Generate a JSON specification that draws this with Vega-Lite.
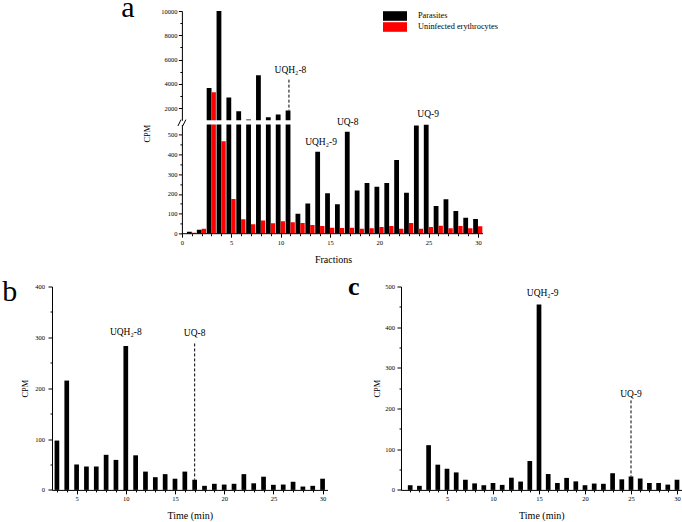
{
  "$schema": "https://vega.github.io/schema/vega-lite/v6.json",
  "padding": {"left": 2, "top": -8, "right": 0, "bottom": 0},
  "config": {
    "font": "Liberation Serif, serif",
    "view": {"stroke": null},
    "scale": {"continuousPadding": 0},
    "axis": {
      "labelFont": "Liberation Serif, serif", "titleFont": "Liberation Serif, serif",
      "labelFontSize": 6.5, "titleFontSize": 8.3, "titleFontWeight": "normal",
      "labelColor": "black", "titleColor": "black", "domainColor": "black", "tickColor": "black",
      "grid": false, "labelFlush": false, "labelPadding": 2
    },
    "text": {"font": "Liberation Serif, serif", "color": "black"}
  },
  "datasets": {
    "fractions": [
      {"fraction": 1, "series": "Parasites", "cpm": 10},
      {"fraction": 2, "series": "Parasites", "cpm": 20},
      {"fraction": 3, "series": "Parasites", "cpm": 3650},
      {"fraction": 4, "series": "Parasites", "cpm": 10000},
      {"fraction": 5, "series": "Parasites", "cpm": 2880},
      {"fraction": 6, "series": "Parasites", "cpm": 1750},
      {"fraction": 7, "series": "Parasites", "cpm": 1070},
      {"fraction": 8, "series": "Parasites", "cpm": 4700},
      {"fraction": 9, "series": "Parasites", "cpm": 1260},
      {"fraction": 10, "series": "Parasites", "cpm": 1480},
      {"fraction": 11, "series": "Parasites", "cpm": 1810},
      {"fraction": 12, "series": "Parasites", "cpm": 100},
      {"fraction": 13, "series": "Parasites", "cpm": 152},
      {"fraction": 14, "series": "Parasites", "cpm": 412},
      {"fraction": 15, "series": "Parasites", "cpm": 203},
      {"fraction": 16, "series": "Parasites", "cpm": 148},
      {"fraction": 17, "series": "Parasites", "cpm": 513},
      {"fraction": 18, "series": "Parasites", "cpm": 218},
      {"fraction": 19, "series": "Parasites", "cpm": 255},
      {"fraction": 20, "series": "Parasites", "cpm": 236},
      {"fraction": 21, "series": "Parasites", "cpm": 255},
      {"fraction": 22, "series": "Parasites", "cpm": 371},
      {"fraction": 23, "series": "Parasites", "cpm": 206},
      {"fraction": 24, "series": "Parasites", "cpm": 545},
      {"fraction": 25, "series": "Parasites", "cpm": 549},
      {"fraction": 26, "series": "Parasites", "cpm": 139},
      {"fraction": 27, "series": "Parasites", "cpm": 173},
      {"fraction": 28, "series": "Parasites", "cpm": 114},
      {"fraction": 29, "series": "Parasites", "cpm": 80},
      {"fraction": 30, "series": "Parasites", "cpm": 74},
      {"fraction": 1, "series": "Uninfected erythrocytes", "cpm": 5},
      {"fraction": 2, "series": "Uninfected erythrocytes", "cpm": 25},
      {"fraction": 3, "series": "Uninfected erythrocytes", "cpm": 3300},
      {"fraction": 4, "series": "Uninfected erythrocytes", "cpm": 465},
      {"fraction": 5, "series": "Uninfected erythrocytes", "cpm": 175},
      {"fraction": 6, "series": "Uninfected erythrocytes", "cpm": 73},
      {"fraction": 7, "series": "Uninfected erythrocytes", "cpm": 47},
      {"fraction": 8, "series": "Uninfected erythrocytes", "cpm": 67},
      {"fraction": 9, "series": "Uninfected erythrocytes", "cpm": 52},
      {"fraction": 10, "series": "Uninfected erythrocytes", "cpm": 63},
      {"fraction": 11, "series": "Uninfected erythrocytes", "cpm": 57},
      {"fraction": 12, "series": "Uninfected erythrocytes", "cpm": 54},
      {"fraction": 13, "series": "Uninfected erythrocytes", "cpm": 44},
      {"fraction": 14, "series": "Uninfected erythrocytes", "cpm": 39},
      {"fraction": 15, "series": "Uninfected erythrocytes", "cpm": 30},
      {"fraction": 16, "series": "Uninfected erythrocytes", "cpm": 29},
      {"fraction": 17, "series": "Uninfected erythrocytes", "cpm": 30},
      {"fraction": 18, "series": "Uninfected erythrocytes", "cpm": 25},
      {"fraction": 19, "series": "Uninfected erythrocytes", "cpm": 27},
      {"fraction": 20, "series": "Uninfected erythrocytes", "cpm": 34},
      {"fraction": 21, "series": "Uninfected erythrocytes", "cpm": 39},
      {"fraction": 22, "series": "Uninfected erythrocytes", "cpm": 25},
      {"fraction": 23, "series": "Uninfected erythrocytes", "cpm": 54},
      {"fraction": 24, "series": "Uninfected erythrocytes", "cpm": 25},
      {"fraction": 25, "series": "Uninfected erythrocytes", "cpm": 34},
      {"fraction": 26, "series": "Uninfected erythrocytes", "cpm": 40},
      {"fraction": 27, "series": "Uninfected erythrocytes", "cpm": 27},
      {"fraction": 28, "series": "Uninfected erythrocytes", "cpm": 39},
      {"fraction": 29, "series": "Uninfected erythrocytes", "cpm": 27},
      {"fraction": 30, "series": "Uninfected erythrocytes", "cpm": 37}
    ],
    "panelB": [
      {"time": 3, "cpm": 97}, {"time": 4, "cpm": 215}, {"time": 5, "cpm": 50}, {"time": 6, "cpm": 46},
      {"time": 7, "cpm": 46}, {"time": 8, "cpm": 69}, {"time": 9, "cpm": 59}, {"time": 10, "cpm": 283},
      {"time": 11, "cpm": 68}, {"time": 12, "cpm": 36}, {"time": 13, "cpm": 25}, {"time": 14, "cpm": 31},
      {"time": 15, "cpm": 22}, {"time": 16, "cpm": 36}, {"time": 17, "cpm": 20}, {"time": 18, "cpm": 8},
      {"time": 19, "cpm": 12}, {"time": 20, "cpm": 10.5}, {"time": 21, "cpm": 12}, {"time": 22, "cpm": 31},
      {"time": 23, "cpm": 13}, {"time": 24, "cpm": 26}, {"time": 25, "cpm": 10}, {"time": 26, "cpm": 10.5},
      {"time": 27, "cpm": 16}, {"time": 28, "cpm": 6.6}, {"time": 29, "cpm": 8}, {"time": 30, "cpm": 22}
    ],
    "panelC": [
      {"time": 1, "cpm": 11.5}, {"time": 2, "cpm": 10}, {"time": 3, "cpm": 110}, {"time": 4, "cpm": 62},
      {"time": 5, "cpm": 52}, {"time": 6, "cpm": 43}, {"time": 7, "cpm": 25}, {"time": 8, "cpm": 16},
      {"time": 9, "cpm": 11.5}, {"time": 10, "cpm": 17}, {"time": 11, "cpm": 12.3}, {"time": 12, "cpm": 30},
      {"time": 13, "cpm": 20.5}, {"time": 14, "cpm": 71}, {"time": 15, "cpm": 456}, {"time": 16, "cpm": 39},
      {"time": 17, "cpm": 17}, {"time": 18, "cpm": 29.5}, {"time": 19, "cpm": 21}, {"time": 20, "cpm": 11.5},
      {"time": 21, "cpm": 15.6}, {"time": 22, "cpm": 15}, {"time": 23, "cpm": 41}, {"time": 24, "cpm": 26},
      {"time": 25, "cpm": 33}, {"time": 26, "cpm": 28}, {"time": 27, "cpm": 17}, {"time": 28, "cpm": 17},
      {"time": 29, "cpm": 13}, {"time": 30, "cpm": 25}
    ],
    "labelsAUpper": [{"label": "UQH₂-8", "x": 11, "y": 5170}],
    "labelsALower": [
      {"label": "UQH₂-9", "x": 14.1, "y": 460},
      {"label": "UQ-8", "x": 16.8, "y": 564},
      {"label": "UQ-9", "x": 24.95, "y": 603}
    ],
    "markersA": [{"x": 11, "y": 4350, "y2": 1810}],
    "axisLineA": [{"from": 0, "to": 30.5, "level": 0}],
    "breakA": [{"x": 0, "y": 558}],
    "labelsB": [{"label": "UQH₂-8", "x": 10, "y": 311}, {"label": "UQ-8", "x": 17, "y": 308}],
    "markersB": [{"x": 17, "y": 288, "y2": 20}],
    "labelsC": [{"label": "UQH₂-9", "x": 15.4, "y": 484}, {"label": "UQ-9", "x": 25, "y": 236}],
    "markersC": [{"x": 25, "y": 220, "y2": 33}],
    "letterA": [{"label": "a", "x": -6.15, "y": 9520}],
    "letterB": [{"label": "b", "x": -2.55, "y": 371}],
    "letterC": [{"label": "c", "x": -5.76, "y": 479}]
  },
  "spacing": 8.5,
  "vconcat": [
    {
      "bounds": "flush",
      "spacing": 3.4,
      "vconcat": [
        {
          "width": 430.9,
          "height": 109.3,
          "resolve": {"axis": {"x": "independent", "y": "independent"}},
          "layer": [
            {
              "data": {"name": "fractions"},
              "transform": [{"filter": "datum.series === 'Parasites'"}],
              "mark": {"type": "bar", "width": 4.8, "xOffset": -2.4, "clip": true},
              "encoding": {
                "x": {"field": "fraction", "type": "quantitative", "scale": {"domain": [-13.16, 30.5], "padding": 0}, "axis": null},
                "y": {"field": "cpm", "type": "quantitative", "scale": {"domain": [1000, 10000]},
                  "axis": {"orient": "left", "values": [2000, 4000, 6000, 8000, 10000], "format": "d",
                    "tickSize": 3.5, "labelPadding": 1.5, "offset": -129.9, "title": null}},
                "color": {"field": "series", "type": "nominal",
                  "scale": {"domain": ["Parasites", "Uninfected erythrocytes"], "range": ["#000000", "#ff0000"]},
                  "legend": {"orient": "none", "legendX": 338, "legendY": 0, "title": null,
                    "symbolType": "M-2.5,-1H2.5V1H-2.5Z", "symbolSize": 92, "symbolStrokeWidth": 0,
                    "symbolOpacity": 1, "labelFont": "Liberation Serif, serif", "labelFontSize": 8.3,
                    "labelColor": "black", "labelOffset": 18, "rowPadding": 1, "padding": 0}}
              }
            },
            {
              "data": {"name": "fractions"},
              "transform": [{"filter": "datum.series === 'Uninfected erythrocytes'"}],
              "mark": {"type": "bar", "width": 4.4, "xOffset": 2.2, "clip": true},
              "encoding": {
                "x": {"field": "fraction", "type": "quantitative", "scale": {"domain": [-13.16, 30.5], "padding": 0}, "axis": null},
                "y": {"field": "cpm", "type": "quantitative", "scale": {"domain": [1000, 10000]},
                  "axis": {"orient": "left", "values": [3000, 5000, 7000, 9000], "labels": false, "domain": false,
                    "tickSize": 2, "offset": -129.9, "title": null}},
                "color": {"field": "series", "type": "nominal"}
              }
            },
            {
              "data": {"name": "markersA"},
              "mark": {"type": "rule", "strokeDash": [3, 2], "color": "black", "strokeWidth": 1, "xOffset": -1.5},
              "encoding": {
                "x": {"field": "x", "type": "quantitative", "scale": {"domain": [-13.16, 30.5], "padding": 0}, "axis": null},
                "y": {"field": "y", "type": "quantitative", "scale": {"domain": [1000, 10000]}, "axis": null},
                "y2": {"field": "y2"}
              }
            },
            {
              "data": {"name": "labelsAUpper"},
              "mark": {"type": "text", "fontSize": 9.5, "baseline": "middle"},
              "encoding": {
                "x": {"field": "x", "type": "quantitative", "scale": {"domain": [-13.16, 30.5], "padding": 0}, "axis": null},
                "y": {"field": "y", "type": "quantitative", "scale": {"domain": [1000, 10000]}, "axis": null},
                "text": {"field": "label"}
              }
            },
            {
              "data": {"name": "letterA"},
              "mark": {"type": "text", "fontSize": 30, "align": "left", "baseline": "alphabetic"},
              "encoding": {
                "x": {"field": "x", "type": "quantitative", "scale": {"domain": [-13.16, 30.5], "padding": 0}, "axis": null},
                "y": {"field": "y", "type": "quantitative", "scale": {"domain": [1000, 10000]}, "axis": null},
                "text": {"field": "label"}
              }
            }
          ]
        },
        {
          "width": 430.9,
          "height": 109.3,
          "resolve": {"axis": {"x": "independent", "y": "independent"}},
          "layer": [
            {
              "data": {"name": "fractions"},
              "transform": [{"filter": "datum.series === 'Parasites'"}],
              "mark": {"type": "bar", "width": 4.8, "xOffset": -2.4, "clip": true},
              "encoding": {
                "x": {"field": "fraction", "type": "quantitative", "scale": {"domain": [-13.16, 30.5], "padding": 0},
                  "axis": {"orient": "bottom", "values": [0, 5, 10, 15, 20, 25, 30], "domain": false, "tickSize": 3.5,
                    "title": "Fractions", "titleFontSize": 10, "titlePadding": 9, "titleX": 281}},
                "y": {"field": "cpm", "type": "quantitative", "scale": {"domain": [0, 550]},
                  "axis": {"orient": "left", "values": [0, 100, 200, 300, 400, 500], "tickSize": 3.5, "labelPadding": 1.5,
                    "offset": -129.9, "title": "CPM", "titleAnchor": "end", "titlePadding": 16}},
                "color": {"field": "series", "type": "nominal"}
              }
            },
            {
              "data": {"name": "fractions"},
              "transform": [{"filter": "datum.series === 'Uninfected erythrocytes'"}],
              "mark": {"type": "bar", "width": 4.4, "xOffset": 2.2, "clip": true},
              "encoding": {
                "x": {"field": "fraction", "type": "quantitative", "scale": {"domain": [-13.16, 30.5], "padding": 0},
                  "axis": {"orient": "bottom", "values": [1,2,3,4,6,7,8,9,11,12,13,14,16,17,18,19,21,22,23,24,26,27,28,29],
                    "labels": false, "domain": false, "tickSize": 2, "title": null}},
                "y": {"field": "cpm", "type": "quantitative", "scale": {"domain": [0, 550]},
                  "axis": {"orient": "left", "values": [50, 150, 250, 350, 450], "labels": false, "domain": false,
                    "tickSize": 2, "offset": -129.9, "title": null}},
                "color": {"field": "series", "type": "nominal"}
              }
            },
            {
              "data": {"name": "axisLineA"},
              "mark": {"type": "rule", "color": "black", "strokeWidth": 1},
              "encoding": {
                "x": {"field": "from", "type": "quantitative", "scale": {"domain": [-13.16, 30.5], "padding": 0}, "axis": null},
                "x2": {"field": "to"},
                "y": {"field": "level", "type": "quantitative", "scale": {"domain": [0, 550]}, "axis": null}
              }
            },
            {
              "data": {"name": "breakA"},
              "mark": {"type": "point", "shape": "M-1,0.8L-0.2,-0.8M0.2,0.8L1,-0.8", "filled": false, "size": 64, "color": "black", "strokeWidth": 1, "opacity": 1},
              "encoding": {
                "x": {"field": "x", "type": "quantitative", "scale": {"domain": [-13.16, 30.5], "padding": 0}, "axis": null},
                "y": {"field": "y", "type": "quantitative", "scale": {"domain": [0, 550]}, "axis": null}
              }
            },
            {
              "data": {"name": "labelsALower"},
              "mark": {"type": "text", "fontSize": 9.5, "baseline": "middle"},
              "encoding": {
                "x": {"field": "x", "type": "quantitative", "scale": {"domain": [-13.16, 30.5], "padding": 0}, "axis": null},
                "y": {"field": "y", "type": "quantitative", "scale": {"domain": [0, 550]}, "axis": null},
                "text": {"field": "label"}
              }
            }
          ]
        }
      ]
    },
    {
      "spacing": 20,
      "hconcat": [
        {
          "width": 275.5,
          "height": 203.4,
          "resolve": {"axis": {"x": "independent", "y": "independent"}},
          "layer": [
            {
              "data": {"name": "panelB"},
              "mark": {"type": "bar", "width": 4.7, "color": "black"},
              "encoding": {
                "x": {"field": "time", "type": "quantitative", "scale": {"domain": [2.5, 30.5], "padding": 0},
                  "axis": {"orient": "bottom", "values": [5, 10, 15, 20, 25, 30], "tickSize": 4,
                    "title": "Time (min)", "titleFontSize": 10, "titlePadding": 8}},
                "y": {"field": "cpm", "type": "quantitative", "scale": {"domain": [0, 400]},
                  "axis": {"orient": "left", "values": [0, 100, 200, 300, 400], "tickSize": 4, "labelPadding": 3.5,
                    "title": "CPM", "titlePadding": 5.7}}
              }
            },
            {
              "data": {"name": "markersB"},
              "mark": {"type": "rule", "strokeDash": [3, 2], "color": "black", "strokeWidth": 1},
              "encoding": {
                "x": {"field": "x", "type": "quantitative", "scale": {"domain": [2.5, 30.5], "padding": 0},
                  "axis": {"orient": "bottom", "values": [3,4,6,7,8,9,11,12,13,14,16,17,18,19,21,22,23,24,26,27,28,29],
                    "labels": false, "domain": false, "tickSize": 2, "title": null}},
                "y": {"field": "y", "type": "quantitative", "scale": {"domain": [0, 400]},
                  "axis": {"orient": "left", "values": [50, 150, 250, 350], "labels": false, "domain": false,
                    "tickSize": 2, "title": null}},
                "y2": {"field": "y2"}
              }
            },
            {
              "data": {"name": "labelsB"},
              "mark": {"type": "text", "fontSize": 9.5, "baseline": "middle"},
              "encoding": {
                "x": {"field": "x", "type": "quantitative", "scale": {"domain": [2.5, 30.5], "padding": 0}, "axis": null},
                "y": {"field": "y", "type": "quantitative", "scale": {"domain": [0, 400]}, "axis": null},
                "text": {"field": "label"}
              }
            },
            {
              "data": {"name": "letterB"},
              "mark": {"type": "text", "fontSize": 30, "align": "left", "baseline": "alphabetic"},
              "encoding": {
                "x": {"field": "x", "type": "quantitative", "scale": {"domain": [2.5, 30.5], "padding": 0}, "axis": null},
                "y": {"field": "y", "type": "quantitative", "scale": {"domain": [0, 400]}, "axis": null},
                "text": {"field": "label"}
              }
            }
          ]
        },
        {
          "width": 280.6,
          "height": 203.4,
          "resolve": {"axis": {"x": "independent", "y": "independent"}},
          "layer": [
            {
              "data": {"name": "panelC"},
              "mark": {"type": "bar", "width": 4.7, "color": "black"},
              "encoding": {
                "x": {"field": "time", "type": "quantitative", "scale": {"domain": [0, 30.5], "padding": 0},
                  "axis": {"orient": "bottom", "values": [5, 10, 15, 20, 25, 30], "tickSize": 4,
                    "title": "Time (min)", "titleFontSize": 10, "titlePadding": 8}},
                "y": {"field": "cpm", "type": "quantitative", "scale": {"domain": [0, 500]},
                  "axis": {"orient": "left", "values": [0, 100, 200, 300, 400, 500], "tickSize": 4, "labelPadding": 2.5,
                    "title": "CPM", "titlePadding": 3.3}}
              }
            },
            {
              "data": {"name": "markersC"},
              "mark": {"type": "rule", "strokeDash": [3, 2], "color": "black", "strokeWidth": 1},
              "encoding": {
                "x": {"field": "x", "type": "quantitative", "scale": {"domain": [0, 30.5], "padding": 0},
                  "axis": {"orient": "bottom", "values": [1,2,3,4,6,7,8,9,11,12,13,14,16,17,18,19,21,22,23,24,26,27,28,29],
                    "labels": false, "domain": false, "tickSize": 2, "title": null}},
                "y": {"field": "y", "type": "quantitative", "scale": {"domain": [0, 500]},
                  "axis": {"orient": "left", "values": [50, 150, 250, 350, 450], "labels": false, "domain": false,
                    "tickSize": 2, "title": null}},
                "y2": {"field": "y2"}
              }
            },
            {
              "data": {"name": "labelsC"},
              "mark": {"type": "text", "fontSize": 9.5, "baseline": "middle"},
              "encoding": {
                "x": {"field": "x", "type": "quantitative", "scale": {"domain": [0, 30.5], "padding": 0}, "axis": null},
                "y": {"field": "y", "type": "quantitative", "scale": {"domain": [0, 500]}, "axis": null},
                "text": {"field": "label"}
              }
            },
            {
              "data": {"name": "letterC"},
              "mark": {"type": "text", "fontSize": 26, "fontWeight": "bold", "align": "left", "baseline": "alphabetic"},
              "encoding": {
                "x": {"field": "x", "type": "quantitative", "scale": {"domain": [0, 30.5], "padding": 0}, "axis": null},
                "y": {"field": "y", "type": "quantitative", "scale": {"domain": [0, 500]}, "axis": null},
                "text": {"field": "label"}
              }
            }
          ]
        }
      ]
    }
  ]
}
